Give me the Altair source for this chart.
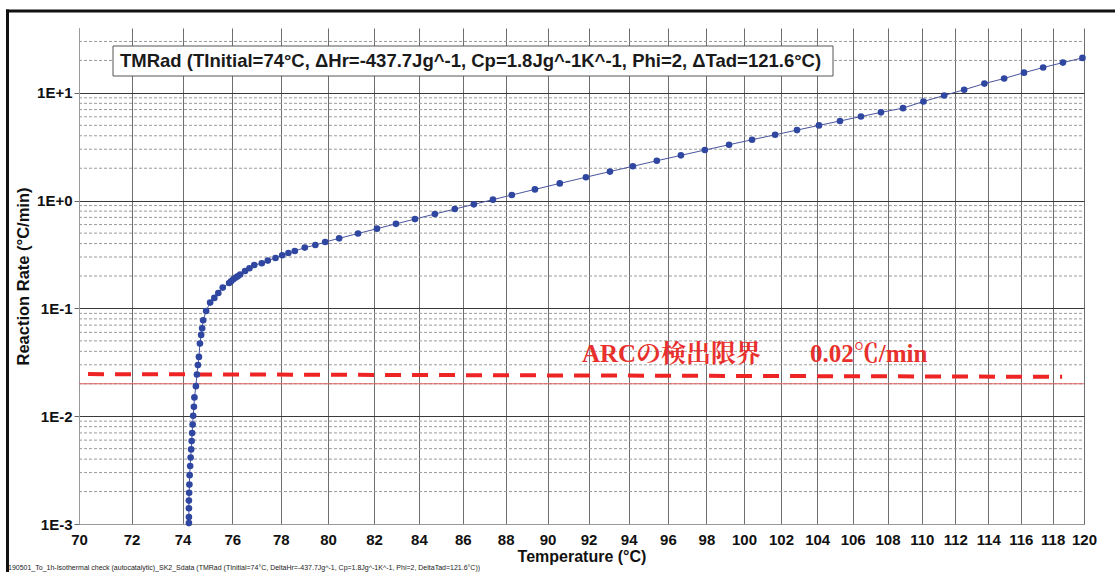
import altair as alt
import pandas as pd

# ---- data ----
temp_c = [74.25, 74.25, 74.25, 74.25, 74.26, 74.27, 74.28, 74.30, 74.32, 74.34, 74.36, 74.38,
          74.40, 74.42, 74.45, 74.47, 74.53, 74.57, 74.61, 74.65, 74.69, 74.74, 74.78, 74.82,
          74.94, 75.10, 75.27, 75.43, 75.61, 75.87, 75.95, 76.04, 76.14, 76.22, 76.32, 76.52,
          76.70, 76.90, 77.21, 77.46, 77.78, 78.06, 78.32, 78.59, 79.01, 79.46, 79.88, 80.48,
          81.30, 82.13, 82.97, 83.82, 84.72, 85.63, 86.51, 87.40, 88.29, 89.39, 90.59, 91.87,
          93.06, 94.21, 95.43, 96.67, 97.92, 99.20, 100.43, 101.68, 102.88, 104.10, 105.28,
          106.47, 107.62, 108.9, 110.1, 111.33, 112.53, 113.76, 114.97, 116.2, 117.4, 118.65,
          119.9]
rate = [0.00102, 0.00116, 0.00140, 0.00165, 0.00195, 0.00232, 0.00284, 0.00345, 0.00413,
        0.00492, 0.00588, 0.00697, 0.00836, 0.01009, 0.01222, 0.01494, 0.01901, 0.0244,
        0.0298, 0.0355, 0.0473, 0.0568, 0.0655, 0.0777, 0.0948, 0.1134, 0.1252, 0.1392,
        0.1562, 0.1723, 0.1787, 0.1865, 0.1934, 0.1988, 0.2062, 0.2227, 0.2359, 0.2530,
        0.2624, 0.2780, 0.2938, 0.3112, 0.3269, 0.3411, 0.3667, 0.3877, 0.4133, 0.4472,
        0.4958, 0.5497, 0.6091, 0.6750, 0.7513, 0.8359, 0.9247, 1.022, 1.129, 1.272, 1.446,
        1.651, 1.862, 2.085, 2.345, 2.633, 2.950, 3.303, 3.676, 4.086, 4.518, 4.993, 5.488,
        6.031, 6.597, 7.22, 8.32, 9.46, 10.7, 12.2, 13.6, 15.4, 17.2, 19.1, 21.1]

x_ticks = list(range(70, 121, 2))
y_major = [0.001, 0.01, 0.1, 1, 10]
y_minor = [k * d for d in [0.001, 0.01, 0.1, 1] for k in range(2, 10)] + [20, 30]

limit_value = 0.02
limit_x = [70, 120]
dash_x = [70.34, 118.6]
dash_y = [0.0246, 0.0232]

arc_text = ["ARCの検出限界", "0.02℃/min"]
arc_text_x = [91.67, 103.6]
arc_text_y = [0.0317, 0.0317]

title_text = "TMRad (TInitial=74°C, ΔHr=-437.7Jg^-1, Cp=1.8Jg^-1K^-1, Phi=2, ΔTad=121.6°C)"
footnote = ("190501_To_1h-Isothermal check (autocatalytic)_SK2_Sdata (TMRad (TInitial=74°C, "
            "DeltaHr=-437.7Jg^-1, Cp=1.8Jg^-1K^-1, Phi=2, DeltaTad=121.6°C))")

W, H = 1005, 496
FONT = "Liberation Sans"

df = pd.DataFrame({"T": temp_c, "R": rate})
minor_df = pd.DataFrame({"R": y_minor})
limit_df = pd.DataFrame({"T": [limit_x[0]], "T2": [limit_x[1]], "R": [limit_value]})
dash_df = pd.DataFrame({"T": dash_x, "R": dash_y})
arc_df = pd.DataFrame({"T": arc_text_x, "R": arc_text_y, "label": arc_text})
one = pd.DataFrame({"a": [0]})

xscale = alt.Scale(type="log", domain=[70, 120], nice=False)
yscale = alt.Scale(type="log", domain=[0.001, 40], nice=False)

label_expr = ("datum.value < 0.005 ? '1E-3' : datum.value < 0.05 ? '1E-2' : "
              "datum.value < 0.5 ? '1E-1' : datum.value < 5 ? '1E+0' : '1E+1'")

xaxis = alt.Axis(values=x_ticks, format="d", grid=True, gridColor="#6e6e6e", gridWidth=1,
                 domainColor="#999999", ticks=False, labelPadding=8, labelFontSize=15,
                 labelFontWeight="bold", labelFont=FONT, labelColor="#111111",
                 labelOverlap=False, labelFlush=False,
                 title="Temperature (°C)", titleFont=FONT, titleFontSize=16,
                 titleFontWeight="bold", titleColor="#111111", titlePadding=1)
yaxis = alt.Axis(values=y_major, labelExpr=label_expr, grid=True, gridColor="#3a3a3a",
                 gridWidth=1, domainColor="#999999", tickColor="#666666", tickSize=5,
                 labelPadding=2, labelFontSize=15, labelFontWeight="bold", labelFont=FONT,
                 labelColor="#111111", title="Reaction Rate (°C/min)", titleFont=FONT,
                 titleFontSize=16.5, titleFontWeight="bold", titleColor="#111111",
                 titlePadding=5)

minor = alt.Chart(minor_df).mark_rule(color="#9a9a9a", strokeWidth=1, strokeDash=[3, 2]).encode(
    y=alt.Y("R:Q", scale=yscale, axis=yaxis),
    x=alt.value(0), x2=alt.value(W))

base_axes = alt.Chart(df).mark_point(opacity=0).encode(
    x=alt.X("T:Q", scale=xscale, axis=xaxis),
    y=alt.Y("R:Q", scale=yscale, axis=yaxis))

limit = alt.Chart(limit_df).mark_rule(color="#e06060", strokeWidth=1).encode(
    x=alt.X("T:Q", scale=xscale), x2="T2:Q", y=alt.Y("R:Q", scale=yscale))

dashed = alt.Chart(dash_df).mark_line(color="#ee2424", strokeWidth=4, strokeDash=[16, 11]).encode(
    x=alt.X("T:Q", scale=xscale), y=alt.Y("R:Q", scale=yscale))

line = alt.Chart(df).mark_line(color="#4a559e", strokeWidth=1).encode(
    x=alt.X("T:Q", scale=xscale), y=alt.Y("R:Q", scale=yscale))

pts = alt.Chart(df).mark_circle(color="#2f47a0", size=44, opacity=1).encode(
    x=alt.X("T:Q", scale=xscale), y=alt.Y("R:Q", scale=yscale))

arc = alt.Chart(arc_df).mark_text(
    align="left", baseline="alphabetic", fontSize=25, fontWeight="bold", color="#e8302c",
    font="Liberation Serif, Noto Serif CJK JP, Noto Sans CJK JP, serif").encode(
    x=alt.X("T:Q", scale=xscale), y=alt.Y("R:Q", scale=yscale), text="label:N")

box = alt.Chart(one).mark_rect(fill="white", stroke="#555555", strokeWidth=1).encode(
    x=alt.value(34), x2=alt.value(754), y=alt.value(18), y2=alt.value(48))

box_text = alt.Chart(one).mark_text(
    align="left", baseline="middle", fontSize=18.5, fontWeight="bold", font=FONT,
    color="#1a1a1a", text=title_text).encode(x=alt.value(41), y=alt.value(33))

foot = alt.Chart(one).mark_text(
    align="left", baseline="alphabetic", fontSize=7, font=FONT, color="#222222",
    text=footnote).encode(x=alt.value(-71), y=alt.value(542))

frame_left = alt.Chart(one).mark_rule(color="#111111", strokeWidth=3).encode(
    x=alt.value(-71.5), y=alt.value(-18.5), y2=alt.value(560))
frame_top = alt.Chart(one).mark_rule(color="#111111", strokeWidth=3).encode(
    x=alt.value(-73), x2=alt.value(1040), y=alt.value(-17))

chart = alt.layer(
    minor, base_axes, limit, dashed, line, pts, arc, box, box_text, foot, frame_left, frame_top
).resolve_scale(x="shared", y="shared").properties(
    width=W, height=H,
    autosize=alt.AutoSizeParams(type="none"),
    padding={"left": 79, "top": 28, "right": 31, "bottom": 48},
    background="white",
).configure_view(stroke=None)

chart.save("out.html", embed_options={"renderer": "svg", "actions": False})
